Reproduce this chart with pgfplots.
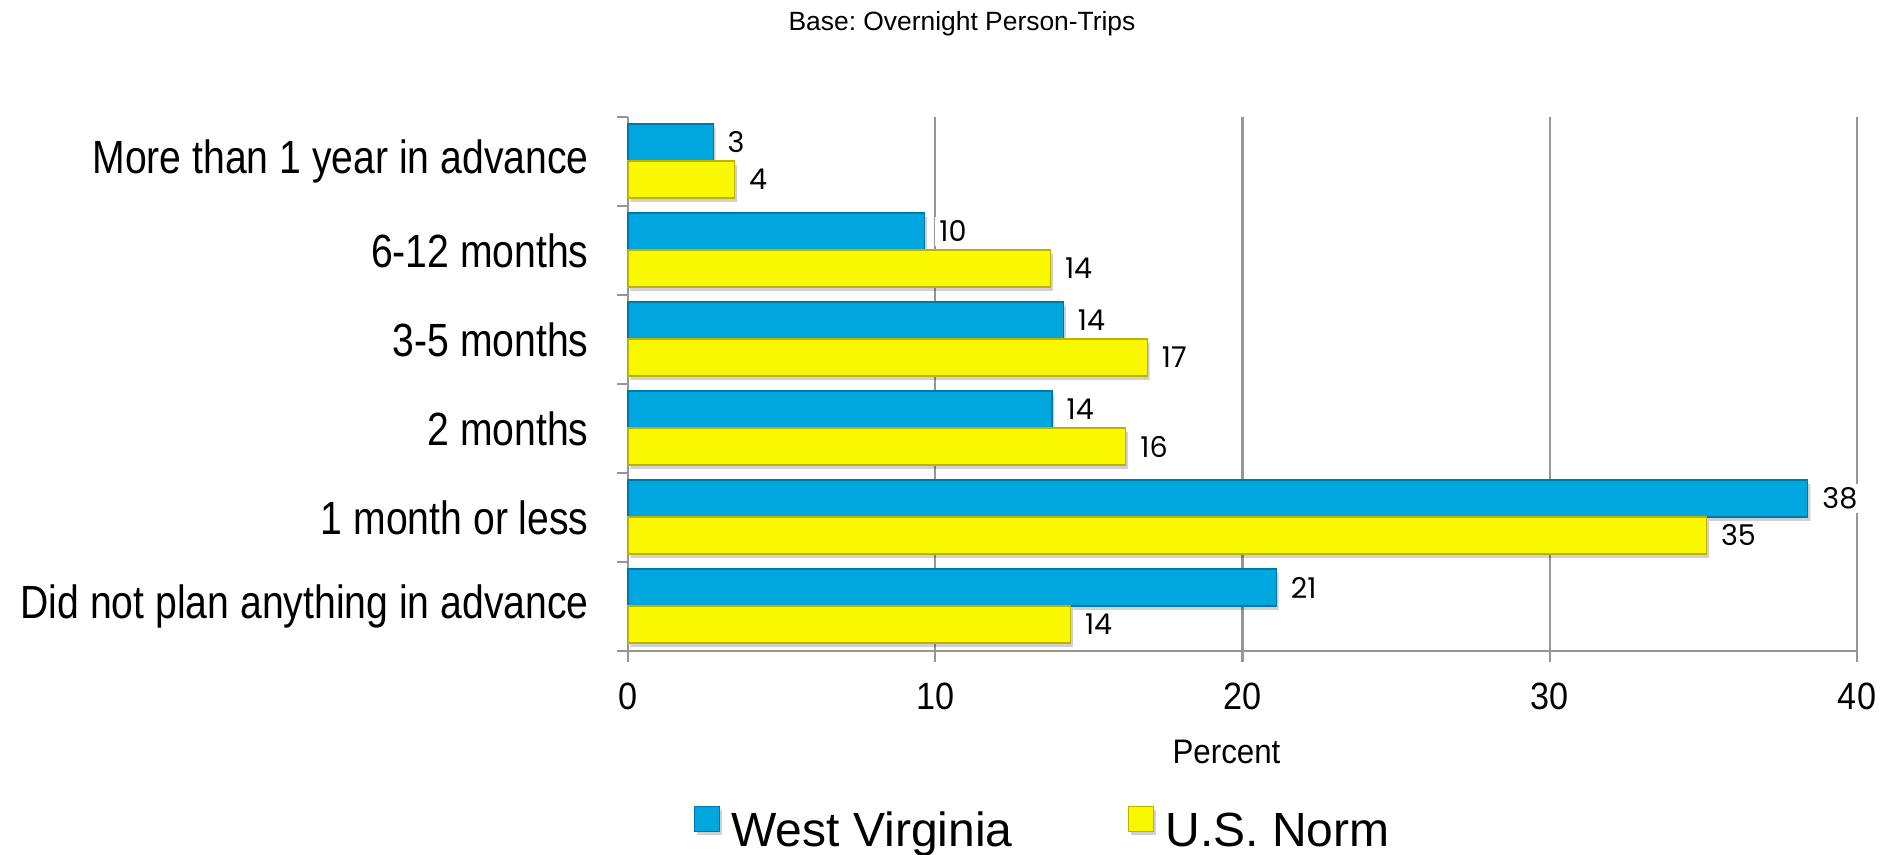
\documentclass[border=0pt]{standalone}
\usepackage{fontspec}
\usepackage{pgfplots}
\usepackage{pgfplotstable}
\pgfplotsset{compat=1.18}
\setmainfont{Liberation Sans}
\newfontfamily\catfont[FakeStretch=0.84]{Liberation Sans}
\newfontfamily\tickfont[FakeStretch=0.9]{Liberation Sans}
\newfontfamily\pctfont[FakeStretch=0.92]{Liberation Sans}
\newfontfamily\labfont{Poppins}
\definecolor{wvblue}{RGB}{0,166,222}
\definecolor{wvbluedark}{RGB}{0,120,170}
\definecolor{usyellow}{RGB}{250,248,0}
\definecolor{usyellowdark}{RGB}{185,180,0}
\definecolor{gridgray}{RGB}{150,150,150}

\pgfplotstableread{
y x lab
5 2.77 3
4 9.66 10
3 14.17 14
2 13.8 14
1 38.4 38
0 21.1 21
}\wvdata

\pgfplotstableread{
y x lab
5 3.47 4
4 13.75 14
3 16.9 17
2 16.2 16
1 35.1 35
0 14.4 14
}\usdata

\begin{document}
\frenchspacing
\begin{tikzpicture}
\useasboundingbox (0,0) rectangle (944pt,427.5pt);
\node[font=\fontsize{13.2}{16}\selectfont] at (481pt,415.5pt) {Base: Overnight Person-Trips};
\begin{axis}[
  at={(314pt,102pt)}, anchor=south west,
  scale only axis, width=614.5pt, height=267pt,
  xbar, bar width=18.5pt,
  xmin=0, xmax=40, ymin=-0.5, ymax=5.5,
  axis x line*=bottom, axis y line*=left,
  axis line style={draw=gridgray, line width=1.2pt},
  tick align=outside,
  xtick={0,10,20,30,40},
  xmajorgrids,
  grid style={draw=gridgray, line width=1.2pt},
  major tick length=5.5pt, minor tick length=5.5pt,
  x tick style={draw=gridgray, line width=1.2pt},
  major y tick style={draw=none},
  minor y tick style={draw=gridgray, line width=1.2pt},
  ytick={0,1,2,3,4,5},
  minor ytick={-0.5,0.5,1.5,2.5,3.5,4.5,5.5},
  yticklabels={Did not plan anything in advance, 1 month or less, 2 months, 3-5 months, 6-12 months, More than 1 year in advance},
  yticklabel style={font=\catfont\fontsize{23.3}{28}\selectfont, anchor=east, inner sep=0pt, xshift=-14pt},
  xticklabel style={font=\tickfont\fontsize{19}{22}\selectfont, anchor=north, inner sep=0pt, yshift=-10.5pt},
  /pgf/number format/assume math mode=true,
  xlabel={Percent},
  xlabel style={font=\pctfont\fontsize{17}{20}\selectfont, at={(axis description cs:0.5,0)}, anchor=base, inner sep=0pt, yshift=-56.5pt, xshift=-8pt},
  nodes near coords,
  point meta=explicit symbolic,
  every node near coord/.append style={font=\labfont\fontsize{14.3}{17}\selectfont, fill=white, inner sep=2pt, anchor=west, xshift=5pt},
  clip=false,
  legend columns=2,
  legend style={at={(axis description cs:0.0537,-0.331)}, anchor=west, draw=none, fill=none,
    font=\fontsize{24}{28}\selectfont, inner sep=0pt, nodes={inner sep=0pt},
    /tikz/every odd column/.append style={column sep=5.5pt},
    /tikz/every even column/.append style={column sep=58pt}},
  legend image code/.code={\draw[#1, line width=0.5pt] (0pt,0pt) rectangle (12.5pt,12.5pt);},
]
\addplot[fill=wvblue, draw=wvbluedark, line width=0.6pt, bar shift=9.5pt,
  preaction={fill=black, opacity=0.18, draw=none, transform canvas={xshift=1.2pt, yshift=-2pt}}]
  table[x=x, y=y, meta=lab] {\wvdata};
\addlegendentry{West Virginia}
\addplot[fill=usyellow, draw=usyellowdark, line width=0.6pt, bar shift=-9pt,
  preaction={fill=black, opacity=0.18, draw=none, transform canvas={xshift=1.2pt, yshift=-2pt}}]
  table[x=x, y=y, meta=lab] {\usdata};
\addlegendentry{U.S. Norm}
\end{axis}
\end{tikzpicture}
\end{document}
